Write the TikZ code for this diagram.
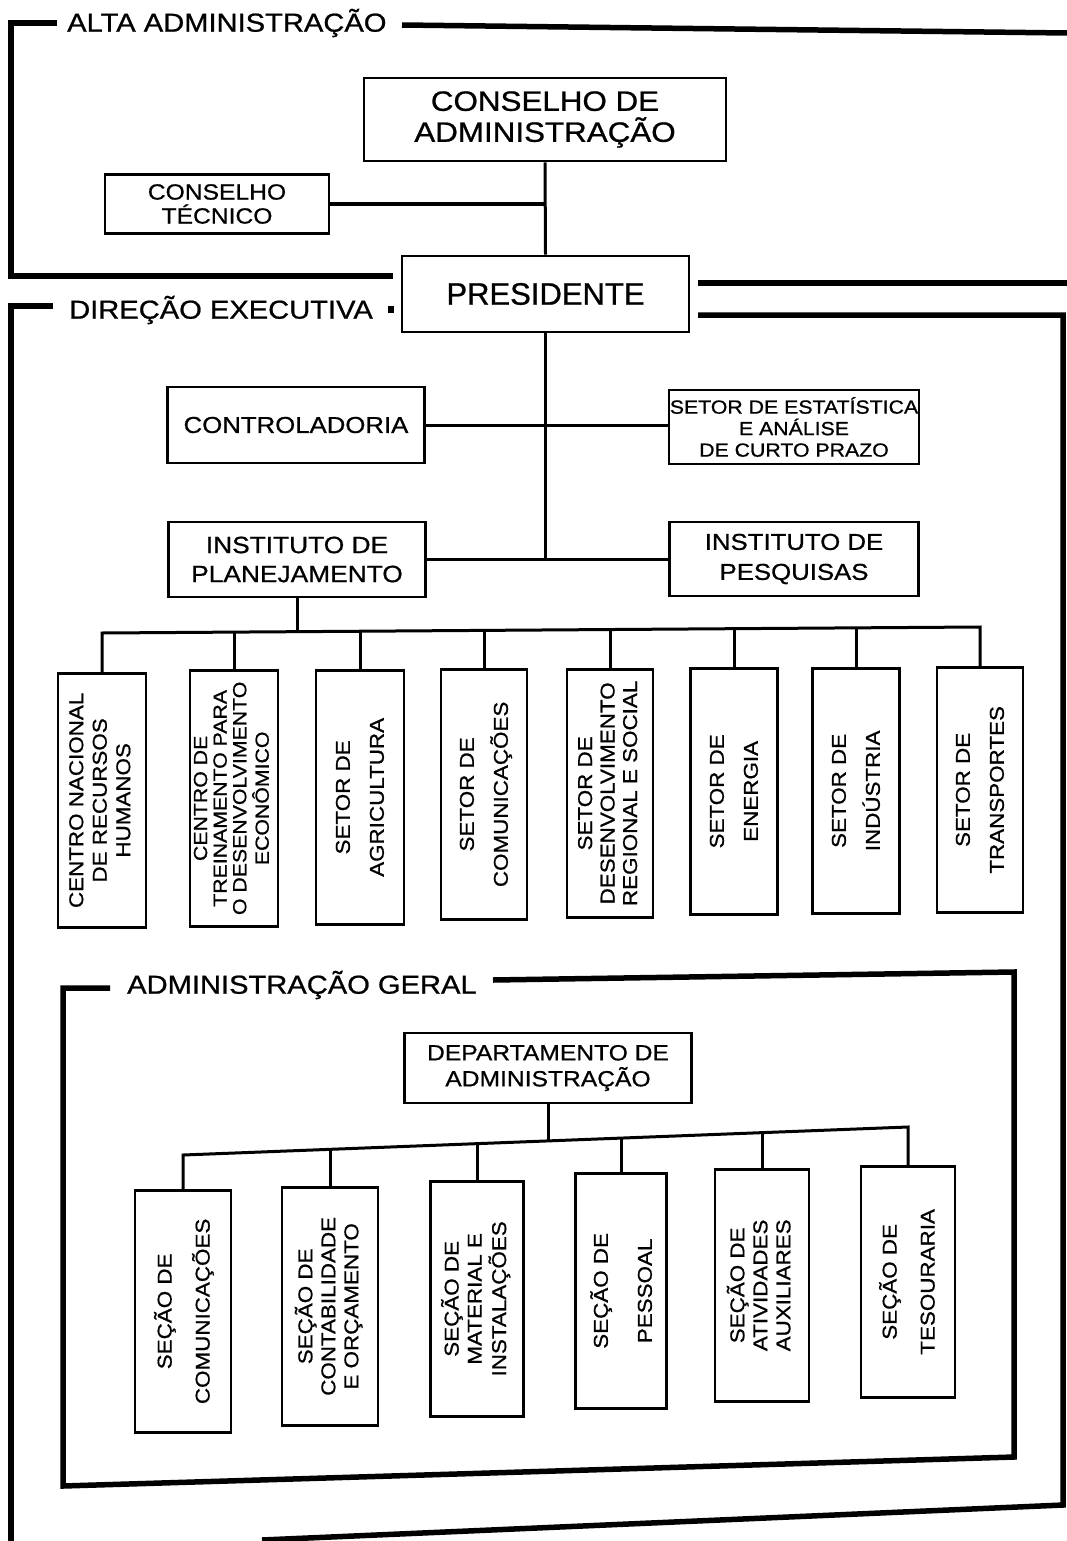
\documentclass[tikz,border=0pt]{standalone}
\usepackage{fontspec}
\usepackage{graphicx}
\setmainfont{Liberation Sans}[FakeStretch=1.12, FakeBold=0.8]
\newfontfamily\plainfont{Liberation Sans}[FakeBold=0.8]
\newcommand{\VT}[1]{\rotatebox{90}{\begin{tabular}{@{}c@{}}#1\end{tabular}}}
\begin{document}
\begin{tikzpicture}[x=1pt,y=-1pt,
  frame/.style={line width=5.5pt, line cap=butt, line join=miter},
  conn/.style={line width=3pt},
  box/.style={draw, line width=2.7pt, inner sep=0pt, align=center},
  vbox/.style={draw, line width=2.7pt, inner sep=0pt, anchor=north},
  flabel/.style={font=\fontsize{26}{30}\selectfont, anchor=west, inner sep=0pt},
  ftwo/.style={font=\fontsize{20}{34}\selectfont},
  fthree/.style={font=\fontsize{20}{23}\selectfont},
]
\useasboundingbox (0,0) rectangle (1067,1541);
\fill[white] (0,0) rectangle (1067,1541);

% ---------- frames ----------
\node[flabel] (alta) at (67,23) {ALTA ADMINISTRAÇÃO};
\node[flabel] (dir) at (69,310) {DIREÇÃO EXECUTIVA};
\node[flabel] (ger) at (127,985) {ADMINISTRAÇÃO GERAL};

\draw[frame] (57,23) -- (11,23) -- (11,276) -- (393,276);
\draw[frame] (402,25) -- (1067,33);
\draw[frame] (698,283) -- (1067,283);
\draw[frame] (53,306) -- (11,306) -- (11,1541);
\draw[frame] (698,315) -- (1063,315) -- (1063,1505) -- (262,1540);
\fill (388,305.5) rectangle (394,312.5);
\draw[frame] (110,988) -- (63,988) -- (63,1486) -- (1014,1457) -- (1014,972) -- (493,980);

% ---------- top boxes ----------
\node[box, minimum width=362pt, minimum height=83pt, font=\fontsize{28}{31}\selectfont] (cda) at (545,119.5) {CONSELHO DE\\ADMINISTRAÇÃO};
\node[box, minimum width=224pt, minimum height=59pt, font=\fontsize{22}{24}\selectfont] (ct) at (217,204) {CONSELHO\\TÉCNICO};
\node[box, minimum width=287pt, minimum height=76pt, font=\plainfont\fontsize{31}{35}\selectfont] (pres) at (545.5,294) {PRESIDENTE};
\node[box, minimum width=257pt, minimum height=76pt, font=\fontsize{23}{27}\selectfont] (ctrl) at (296,425) {CONTROLADORIA};
\node[box, minimum width=250pt, minimum height=74pt, font=\fontsize{19}{21.5}\selectfont] (est) at (794,427) {SETOR DE ESTATÍSTICA\\E ANÁLISE\\DE CURTO PRAZO};
\node[box, minimum width=257pt, minimum height=75pt, font=\fontsize{23.5}{29}\selectfont] (iplan) at (297,559.5) {INSTITUTO DE\\PLANEJAMENTO};
\node[box, minimum width=249pt, minimum height=74pt, font=\fontsize{23}{30}\selectfont] (ipesq) at (794,559) {INSTITUTO DE\\PESQUISAS};

\coordinate (j1) at (545.5,204);
\coordinate (j3) at (545.5,559);
\draw[conn] (cda.south) -- (pres.north);
\draw[conn] (ct.east) -- (j1);
\draw[conn] (pres.south) -- (j3);
\draw[conn] (ctrl.east) -- (ctrl.east -| est.west);
\draw[conn] (iplan.east) -- (iplan.east -| ipesq.west);

% ---------- sectors ----------
\node[vbox, minimum width=88pt, minimum height=254pt, font=\fontsize{20}{23.5}\selectfont] (c1) at (102,672) {\VT{CENTRO NACIONAL\\DE RECURSOS\\HUMANOS}};
\node[vbox, minimum width=88pt, minimum height=256pt, font=\fontsize{19}{19.6}\selectfont] (c2) at (234,669) {\VT{CENTRO DE\\TREINAMENTO PARA\\O DESENVOLVIMENTO\\ECONÔMICO}};
\node[vbox, minimum width=88pt, minimum height=254pt, ftwo] (c3) at (360,669) {\VT{SETOR DE\\AGRICULTURA}};
\node[vbox, minimum width=86pt, minimum height=250pt, ftwo] (c4) at (484,668) {\VT{SETOR DE\\COMUNICAÇÕES}};
\node[vbox, minimum width=86pt, minimum height=248pt, font=\fontsize{20}{22.5}\selectfont] (c5) at (610,668) {\VT{SETOR DE\\DESENVOLVIMENTO\\REGIONAL E SOCIAL}};
\node[vbox, minimum width=87pt, minimum height=246pt, ftwo] (c6) at (734,667) {\VT{SETOR DE\\ENERGIA}};
\node[vbox, minimum width=87pt, minimum height=245pt, ftwo] (c7) at (856,667) {\VT{SETOR DE\\INDÚSTRIA}};
\node[vbox, minimum width=86pt, minimum height=245pt, ftwo] (c8) at (980,666) {\VT{SETOR DE\\TRANSPORTES}};

\coordinate (busmid) at (297,631.5);
\coordinate (p1) at (102,633);
\coordinate (p2) at (234,632);
\coordinate (p3) at (360,631.2);
\coordinate (p4) at (484,630.4);
\coordinate (p5) at (610,629.5);
\coordinate (p6) at (734,628.7);
\coordinate (p7) at (856,627.9);
\coordinate (p8) at (980,627);
\draw[conn] (iplan.south) -- (busmid);
\draw[conn] (c1.north) -- (p1) -- (p8) -- (c8.north);
\foreach \k in {2,...,7} \draw[conn] (p\k) -- (c\k.north);

% ---------- administracao geral ----------
\node[box, minimum width=287pt, minimum height=70pt, font=\fontsize{22}{26}\selectfont] (dept) at (548,1068) {DEPARTAMENTO DE\\ADMINISTRAÇÃO};

\node[vbox, minimum width=96pt, minimum height=242pt, font=\fontsize{20}{38}\selectfont] (s1) at (183,1189) {\VT{SEÇÃO DE\\COMUNICAÇÕES}};
\node[vbox, minimum width=96pt, minimum height=238pt, fthree] (s2) at (330,1186) {\VT{SEÇÃO DE\\CONTABILIDADE\\E ORÇAMENTO}};
\node[vbox, minimum width=93pt, minimum height=235pt, fthree] (s3) at (477,1180) {\VT{SEÇÃO DE\\MATERIAL E\\INSTALAÇÕES}};
\node[vbox, minimum width=91pt, minimum height=235pt, font=\fontsize{20}{44}\selectfont] (s4) at (621,1172) {\VT{SEÇÃO DE\\PESSOAL}};
\node[vbox, minimum width=94pt, minimum height=232pt, fthree] (s5) at (762,1168) {\VT{SEÇÃO DE\\ATIVIDADES\\AUXILIARES}};
\node[vbox, minimum width=94pt, minimum height=231pt, font=\fontsize{20}{38}\selectfont] (s6) at (908,1165) {\VT{SEÇÃO DE\\TESOURARIA}};

\coordinate (g1) at (183,1155);
\coordinate (g2) at (330,1149.3);
\coordinate (g3) at (477,1143.6);
\coordinate (gd) at (548,1140.9);
\coordinate (g4) at (621,1138.1);
\coordinate (g5) at (762,1132.6);
\coordinate (g6) at (908,1127);
\draw[conn] (s1.north) -- (g1) -- (g6) -- (s6.north);
\foreach \k in {2,...,5} \draw[conn] (g\k) -- (s\k.north);
\draw[conn] (dept.south) -- (gd);
\end{tikzpicture}
\end{document}
